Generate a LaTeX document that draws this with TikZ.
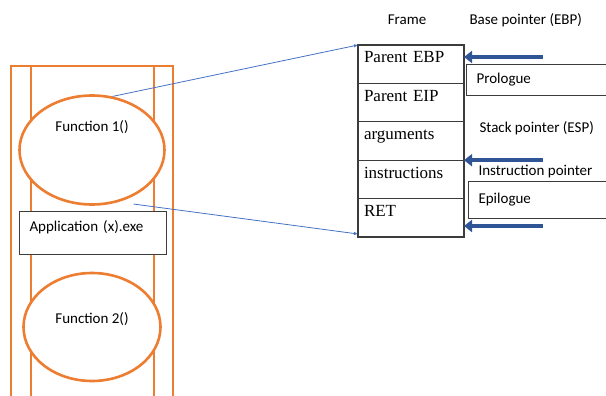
\documentclass[tikz,border=0pt]{standalone}
\usepackage{fontspec}
\setmainfont{Carlito}
\newfontfamily\cellfont{Liberation Serif}
\usetikzlibrary{positioning,shapes.geometric,arrows.meta}

\begin{document}
\begin{tikzpicture}[x=1pt,y=-1pt,
  font=\fontsize{15}{18}\selectfont,
  fn/.style={ellipse,draw=appOrange,line width=2.6pt,fill=white,inner sep=0pt},
  cell/.style={draw=cellGray,line width=1.1pt,outer sep=0pt,text width=94pt,inner xsep=6pt,inner ysep=0pt,
    text height=18pt,text depth=20.4pt,align=left,font=\cellfont\fontsize{17}{20}\selectfont},
  side/.style={draw=cellGray,line width=1.1pt,fill=white,inner xsep=10pt,align=left,anchor=north west},
  ptr/.style={line width=4.5pt,draw=ptrBlue,-{Triangle[length=8pt,width=12pt]}},
  call/.style={draw=callBlue,line width=0.8pt,-{Latex[length=4pt,width=3.5pt]}}]
% Define colours
\definecolor{appOrange}{RGB}{237,125,49}
\definecolor{cellGray}{RGB}{60,60,60}
\definecolor{ptrBlue}{RGB}{47,85,151}
\definecolor{callBlue}{RGB}{68,114,196}

\useasboundingbox (0,0) rectangle (606,396);

% Draw application column
\draw[appOrange,line width=2.6pt] (11,400) -- (11,66) -- (173,66) -- (173,400);
\draw[appOrange,line width=2.6pt] (31,66) -- (31,400) (154,66) -- (154,400);

% Add functions and the exe box
\node[fn,minimum width=145pt,minimum height=109pt,label={[yshift=23pt]center:Function 1()}] (fun1) at (92,150) {};
\node[fn,minimum width=137pt,minimum height=108pt,label={[yshift=8pt]center:Function 2()}] (fun2) at (92,327) {};
\node[side,minimum height=43pt,text width=127pt,text height=12pt,text depth=16pt] (app) at (19,211) {Application (x).exe};

% Draw stack frame
\node[cell,anchor=north west] (ebp) at (358,45) {Parent EBP};
\node[cell,below=0pt of ebp] (eip) {Parent EIP};
\node[cell,below=0pt of eip] (args) {arguments};
\node[cell,below=0pt of args] (instr) {instructions};
\node[cell,below=0pt of instr] (ret) {RET};

% Add headers and pointer names
\node (frame) at (407,20) {Frame};
\node[anchor=west] (bp) at (466,20) {Base pointer (EBP)};
\node[anchor=west] (sp) at (476,128) {Stack pointer (ESP)};
\node[anchor=west] (ip) at (475,172) {Instruction pointer};
\node[side,minimum height=31pt,text width=126pt] (pro) at (466,64) {Prologue};
\node[side,minimum height=37pt,text width=124pt] (epi) at (468,181) {Epilogue};

% Add pointer arrows
\draw[ptr] ([xshift=79pt,yshift=-12pt]ebp.north east) -- ([yshift=-12pt]ebp.north east);
\draw[ptr] ([xshift=79pt]args.south east) -- (args.south east);
\draw[ptr] ([xshift=79pt,yshift=11pt]ret.south east) -- ([yshift=11pt]ret.south east);

% Add call arrows
\coordinate (callOut) at ([xshift=4pt,yshift=-6pt]fun1.-52);
\draw[call] (fun1.69) -- (ebp.north west);
\draw[call] (callOut) -- ([yshift=3pt]ret.south west);
\end{tikzpicture}
\end{document}
